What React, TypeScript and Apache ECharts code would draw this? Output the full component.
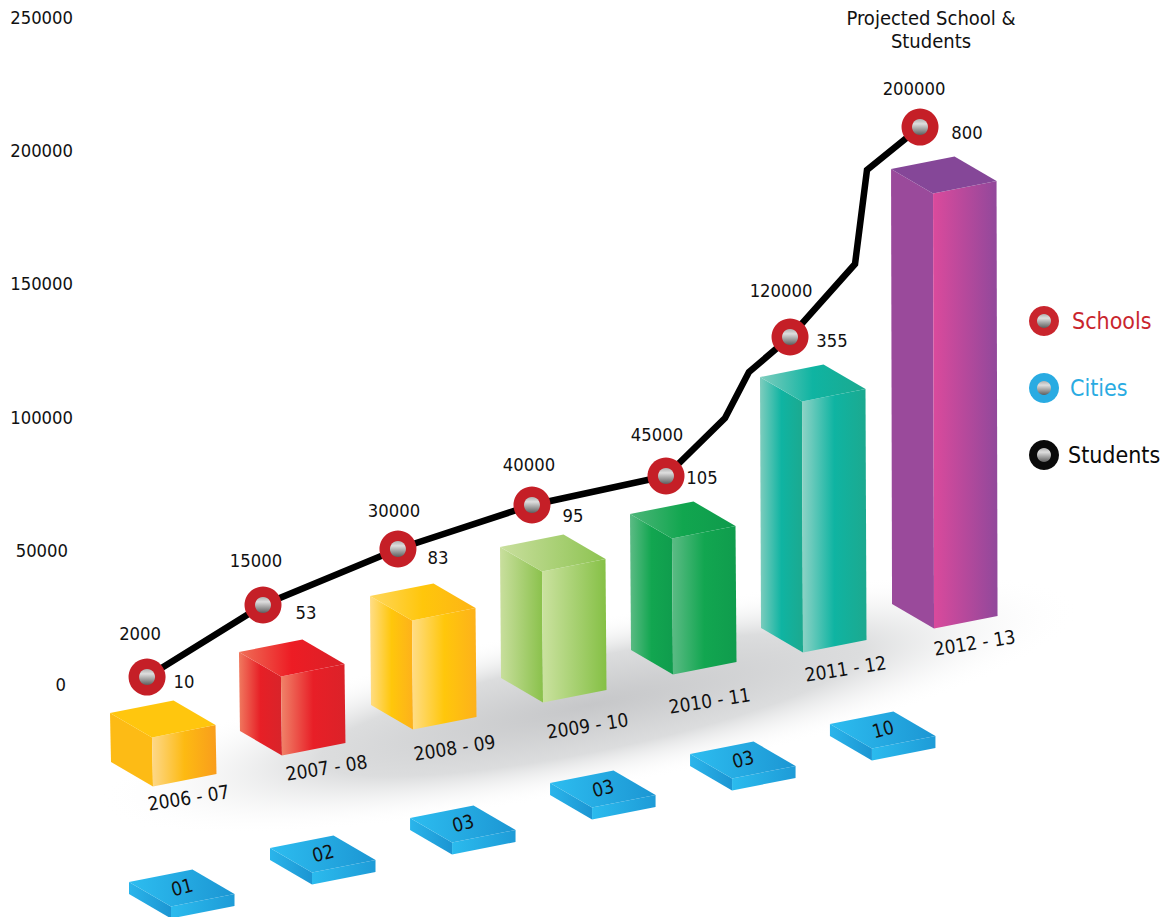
import React, { useEffect, useRef } from "react";
import * as echarts from "echarts";

const FONT = '"DejaVu Sans Condensed", "DejaVu Sans", sans-serif';
const FS = 18.3;
const TILT_FS = 19;

const yTicks = [0, 50000, 100000, 150000, 200000, 250000];
const years = ["2006 - 07", "2007 - 08", "2008 - 09", "2009 - 10", "2010 - 11", "2011 - 12", "2012 - 13"];
const schools = [10, 53, 83, 95, 105, 355, 800];
const students = [2000, 15000, 30000, 40000, 45000, 120000, 200000];
const cities = ["01", "02", "03", "03", "03", "10"];

// in units of the drawn axes
const barX = [0, 0.992, 2, 3, 4, 5, 6.008];
const barTop = [-10870, 11990, 32980, 51350, 63720, 115060, 193020];
const barBottom = [-29230, -17620, -7870, 2250, 12740, 20990, 29980];
const plateX = [0.146, 1.231, 2.308, 3.385, 4.462, 5.538];
const plateLevel = [-74210, -61470, -50220, -37110, -26240, -14990];
const markerX = [0.285, 1.177, 2.215, 3.246, 4.277, 5.231, 6.231];
const markerY = [2620, 29610, 50600, 67090, 77960, 130060, 208760];
const lineX = [0.285, 1.177, 2.215, 3.246, 4.277, 4.731, 4.915, 5.231, 5.731, 5.823, 6.231];
const lineY = [2620, 29610, 50600, 67090, 77960, 99700, 116940, 130060, 157420, 192650, 208760];

// layout
const FRONT = [42, 24.5];
const BACK = [63.5, -12.5];
const studentOffsets = [[-7, -44], [-7, -45], [-4, -38], [-3, -41], [-9, -42], [-9, -46], [-6, -39]];
const schoolOffsets = [[37, 4], [43, 7], [40, 9], [41, 10], [36, 1], [42, 4], [47, 5]];
const yearOffsets = [[-6, -13], [3, -12], [0, -6], [3, -1], [-5, 2], [1, -8], [-1, -10]];

// left, right, top face colour stops
const barColors = [
  [["#FDBB15", "#FDBB15"], ["#FDD88A", "#FDBA12", "#F99D1C"], ["#FFC60E", "#FFC60E"]],
  [["#F0795F", "#E71F26", "#D8242A"], ["#F08369", "#E81F27", "#DB2229"], ["#EF7058", "#ED1C24", "#DA2128"]],
  [["#FFDD87", "#FFC70B", "#FDB11B"], ["#FFDD87", "#FFC70B", "#FDB11B"], ["#FFD75E", "#FFC60B", "#FDB417"]],
  [["#C9DF9E", "#8AC14B"], ["#CBE2A0", "#85C045"], ["#C9DF9E", "#8DC351"]],
  [["#5CBB85", "#12A650", "#0F9C4D"], ["#5CBB85", "#12A650", "#0F9C4D"], ["#4DB679", "#11A64F", "#0F9A4C"]],
  [["#7FCDBE", "#0FB4A2", "#1CA98F"], ["#8FD3C6", "#0FB4A2", "#1CA98F"], ["#7FCDBE", "#0FB4A2", "#1CA98F"]],
  [["#9A4A9B", "#9A4A9B"], ["#DB4A9C", "#91489B"], ["#854798", "#854798"]],
];
const plateColors = [["#2AB5EB", "#1C95D2"], ["#2BBBEE", "#1E9BD7"], ["#2DBDF0", "#1C96D3"]];

const hGrad = (stops: string[]) =>
  new echarts.graphic.LinearGradient(
    0, 0, 1, 0,
    stops.map((color, i) => ({ offset: i / (stops.length - 1), color }))
  );
const sphereFill = () =>
  new echarts.graphic.LinearGradient(0, 0, 0, 1, [
    { offset: 0, color: "#b0b0b0" },
    { offset: 0.3, color: "#dedede" },
    { offset: 1, color: "#5e5e5e" },
  ]);

const add = (p: number[], ...o: number[][]) =>
  o.reduce((a, b) => [a[0] + b[0], a[1] + b[1]], p);

function box(topLeft: number[], bottomLeft: number[], colors: string[][]) {
  const tf = add(topLeft, FRONT);
  const tb = add(topLeft, BACK);
  const tr = add(topLeft, FRONT, BACK);
  const bf = add(bottomLeft, FRONT);
  const br = add(bottomLeft, FRONT, BACK);
  const poly = (points: number[][], stops: string[]) => ({
    type: "polygon",
    shape: { points },
    style: { fill: hGrad(stops) },
  });
  return [
    poly([topLeft, tf, bf, bottomLeft], colors[0]),
    poly([tf, tr, br, bf], colors[1]),
    poly([topLeft, tb, tr, tf], colors[2]),
  ];
}

function tiltedText(text: string, x: number, y: number, deg: number) {
  return {
    type: "text",
    x,
    y,
    rotation: (deg * Math.PI) / 180,
    style: {
      text,
      fill: "#111",
      fontFamily: FONT,
      fontSize: TILT_FS,
      textAlign: "center",
      textVerticalAlign: "middle",
    },
  };
}

function legendItem(cy: number, color: string, label: string, textX: number) {
  return [
    { type: "circle", shape: { cx: 1044, cy, r: 15 }, style: { fill: color } },
    { type: "circle", shape: { cx: 1044, cy, r: 7 }, style: { fill: sphereFill() } },
    {
      type: "text",
      x: textX,
      y: cy,
      style: { text: label, fill: color, fontFamily: FONT, fontSize: 23, textAlign: "left", textVerticalAlign: "middle" },
    },
  ];
}

export default function App() {
  const ref = useRef<HTMLDivElement>(null);
  useEffect(() => {
    const chart = echarts.init(ref.current!, undefined, { renderer: "svg" });
    chart.setOption({
      animation: false,
      backgroundColor: "#fff",
      title: {
        text: "Projected School &\nStudents",
        left: 926,
        top: 1,
        textAlign: "center",
        textStyle: { fontFamily: FONT, fontSize: 20, fontWeight: "normal", color: "#111", lineHeight: 23 },
      },
      grid: { left: 73, top: 17, width: 1095, height: 800.4, containLabel: false },
      xAxis: { type: "value", min: -0.2846, max: 8.1385, show: false },
      yAxis: {
        type: "value",
        min: -50000,
        max: 250000,
        interval: 50000,
        axisLine: { show: false },
        axisTick: { show: false },
        splitLine: { show: false },
        axisLabel: {
          margin: 0,
          fontFamily: FONT,
          fontSize: FS,
          color: "#111",
          formatter: (v: number) =>
            !yTicks.includes(v) ? "" : v === 0 ? "{c|0}" : v === 50000 ? "{b|50000}" : `{a|${v}}`,
          rich: {
            a: { fontFamily: FONT, fontSize: FS, color: "#111" },
            b: { fontFamily: FONT, fontSize: FS, color: "#111", padding: [0, 5, 0, 0] },
            c: { fontFamily: FONT, fontSize: FS, color: "#111", padding: [0, 7, 0, 0] },
          },
        },
      },
      graphic: {
        elements: [
          {
            type: "circle",
            x: 590,
            y: 705,
            rotation: 0.2,
            scaleX: 5.0,
            scaleY: 0.85,
            shape: { cx: 0, cy: 0, r: 100 },
            style: {
              fill: new echarts.graphic.RadialGradient(0.5, 0.5, 0.5, [
                { offset: 0, color: "#c6c7c9" },
                { offset: 0.55, color: "#dcddde" },
                { offset: 1, color: "rgba(255,255,255,0)" },
              ]),
            },
          },
          ...legendItem(321, "#C9252D", "Schools", 1072),
          ...legendItem(388, "#29ABE2", "Cities", 1070),
          ...legendItem(455, "#0A0A0A", "Students", 1068),
        ],
      },
      series: [
        {
          type: "custom",
          name: "Cities",
          z: 2,
          data: cities.map((c, i) => [plateX[i], plateLevel[i], i]),
          encode: { x: 0, y: 1 },
          renderItem: (_: any, api: any) => {
            const i = api.value(2);
            const tl = api.coord([api.value(0), api.value(1)]);
            const bl = [tl[0], tl[1] + 12];
            return {
              type: "group",
              children: [...box(tl, bl, plateColors), tiltedText(cities[i], tl[0] + 53, tl[1] + 5, 15)],
            };
          },
        },
        {
          type: "custom",
          name: "Years",
          z: 3,
          data: years.map((y, i) => [barX[i], barTop[i], barBottom[i], i]),
          encode: { x: 0, y: [1, 2] },
          renderItem: (_: any, api: any) => {
            const i = api.value(3);
            const tl = api.coord([api.value(0), api.value(1)]);
            const bl = api.coord([api.value(0), api.value(2)]);
            bl[0] += 1;
            const f = add(bl, FRONT, yearOffsets[i], [41.5, 24]);
            return {
              type: "group",
              children: [...box(tl, bl, barColors[i]), tiltedText(years[i], f[0], f[1], 9)],
            };
          },
        },
        {
          type: "line",
          name: "Students line",
          z: 4,
          clip: false,
          symbol: "none",
          data: lineX.map((x, i) => [x, lineY[i]]),
          lineStyle: { color: "#000", width: 6.5, join: "miter" },
        },
        {
          type: "scatter",
          name: "Students",
          z: 5,
          clip: false,
          symbolSize: 37,
          itemStyle: { color: "#C51F27", opacity: 1 },
          data: students.map((v, i) => ({
            value: [markerX[i], markerY[i], v],
            label: { offset: studentOffsets[i] },
          })),
          label: {
            show: true,
            position: "inside",
            align: "center",
            verticalAlign: "middle",
            fontFamily: FONT,
            fontSize: FS,
            color: "#111",
            formatter: (p: any) => String(p.value[2]),
          },
        },
        {
          type: "scatter",
          name: "Schools",
          z: 6,
          clip: false,
          symbolSize: 16,
          itemStyle: { color: sphereFill(), opacity: 1 },
          data: schools.map((v, i) => ({
            value: [markerX[i], markerY[i], v],
            label: { offset: schoolOffsets[i] },
          })),
          label: {
            show: true,
            position: "inside",
            align: "center",
            verticalAlign: "middle",
            fontFamily: FONT,
            fontSize: FS,
            color: "#111",
            formatter: (p: any) => String(p.value[2]),
          },
        },
      ],
    });
    return () => chart.dispose();
  }, []);
  return (
    <div
      ref={ref}
      style={{ position: "absolute", left: 0, top: 0, width: 1168, height: 917, overflow: "hidden" }}
    />
  );
}
